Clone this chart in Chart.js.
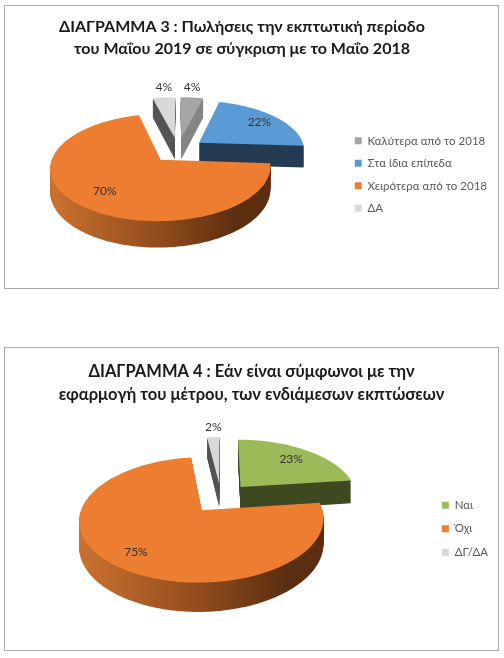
<!DOCTYPE html>
<html>
<head>
<meta charset="utf-8">
<script src="https://cdn.jsdelivr.net/npm/chart.js@4"></script>
<style>
  html, body { margin: 0; padding: 0; background: #fff; }
  canvas { position: absolute; left: 5px; outline: 1px solid #a9a9a9; background: #fff; }
  #chart3 { top: 6px; }
  #chart4 { top: 348px; }
</style>
</head>
<body>
<canvas id="chart3" width="493" height="282"></canvas>
<canvas id="chart4" width="493" height="302"></canvas>
<script>
let fontName = 'Lato, "Open Sans", "Noto Sans", sans-serif';

let title3 = ['ΔΙΑΓΡΑΜΜΑ 3 : Πωλήσεις την εκπτωτική περίοδο', 'του Μαΐου 2019 σε σύγκριση με το Μαΐο 2018'];
let categories3 = ['Καλύτερα από το 2018', 'Στα ίδια επίπεδα', 'Χειρότερα από το 2018', 'ΔΑ'];
let values3 = [4, 22, 70, 4];

let title4 = ['ΔΙΑΓΡΑΜΜΑ 4 : Εάν είναι σύμφωνοι με την', 'εφαρμογή του μέτρου, των ενδιάμεσων εκπτώσεων'];
let categories4 = ['Ναι', 'Όχι', 'ΔΓ/ΔΑ'];
let values4 = [23, 75, 2];

let orange = '#ed7d31';
let colors3 = ['#a5a5a5', '#5b9bd5', orange, '#d9d9d9'];
let walls3 = ['#858585', '#243c53', 'gradient', '#555555'];
let colors4 = ['#9bbb59', orange, '#d9d9d9'];
let walls4 = ['#3f4a22', 'gradient', '#555555'];

// tilted 3d look: the library works out the slices, this only projects them
function projector(view, el) {
    return function (x, y) {
        let u = (x - el.x) / el.outerRadius;
        let v = (y - el.y) / el.outerRadius;
        let s = 1 / (1 - view.k * v);
        return { x: view.cx + view.rx * u * s, y: view.cy + view.ry * v * s, s: s };
    };
}

function slicePoints(view, el) {
    let project = projector(view, el);
    let mid = (el.startAngle + el.endAngle) / 2;
    let ox = el.x + Math.cos(mid) * el.options.offset;
    let oy = el.y + Math.sin(mid) * el.options.offset;
    let pts = [project(ox, oy)];
    let steps = Math.ceil((el.endAngle - el.startAngle) * 40);
    for (let i = 0; i <= steps; i++) {
        let a = el.startAngle + (el.endAngle - el.startAngle) * i / steps;
        pts.push(project(ox + Math.cos(a) * el.outerRadius, oy + Math.sin(a) * el.outerRadius));
    }
    return pts;
}

function fillSlice(ctx, pts, depth) {
    ctx.beginPath();
    pts.forEach((p, i) => {
        if (i === 0) ctx.moveTo(p.x, p.y + depth * p.s);
        else ctx.lineTo(p.x, p.y + depth * p.s);
    });
    ctx.closePath();
    ctx.fill();
}

let tiltedPie = {
    id: 'tiltedPie',
    afterLayout(chart, args, view) {
        // the first title sits a little left of the frame centre
        chart.titleBlock.left -= view.titleShift;
        chart.titleBlock.right -= view.titleShift;
    },
    beforeDatasetsDraw(chart, args, view) {
        let ctx = chart.ctx;
        let meta = chart.getDatasetMeta(0);
        let ds = chart.data.datasets[0];
        let order = meta.data.map((el, i) => i).sort((a, b) => {
            let ma = (meta.data[a].startAngle + meta.data[a].endAngle) / 2;
            let mb = (meta.data[b].startAngle + meta.data[b].endAngle) / 2;
            return Math.sin(ma) - Math.sin(mb);
        });
        ctx.save();
        order.forEach(i => {
            let el = meta.data[i];
            let pts = slicePoints(view, el);
            let wall = view.walls[i];
            if (wall === 'gradient') {
                wall = ctx.createLinearGradient(view.cx - view.rx * 1.15, 0, view.cx + view.rx * 0.85, 0);
                wall.addColorStop(0, '#c8702e');
                wall.addColorStop(0.5, '#8f4b1c');
                wall.addColorStop(0.85, '#5c2e10');
                wall.addColorStop(1, '#5c2e10');
            }
            ctx.fillStyle = wall;
            for (let d = view.depth; d > 0; d--) fillSlice(ctx, pts, d);
            ctx.fillStyle = ds.backgroundColor[i];
            fillSlice(ctx, pts, 0);
        });
        ctx.fillStyle = '#333333';
        ctx.font = '12px ' + fontName;
        ctx.textAlign = 'center';
        ctx.textBaseline = 'middle';
        meta.data.forEach((el, i) => {
            let project = projector(view, el);
            let mid = (el.startAngle + el.endAngle) / 2;
            let r = el.options.offset + el.outerRadius * view.labelAt[i];
            let p = project(el.x + Math.cos(mid) * r, el.y + Math.sin(mid) * r);
            ctx.fillText(ds.data[i] + '%', p.x, p.y - view.labelLift[i]);
        });
        ctx.restore();
        return false;
    }
};

function makeChart(id, title, categories, values, colors, view, look) {
    return new Chart(document.getElementById(id), {
        type: 'pie',
        data: {
            labels: categories,
            datasets: [{ data: values, backgroundColor: colors, offset: look.offset, borderWidth: 0 }]
        },
        plugins: [tiltedPie],
        options: {
            responsive: false,
            animation: false,
            radius: 100,
            layout: { padding: { right: look.padRight } },
            plugins: {
                tooltip: { enabled: false },
                title: {
                    display: true,
                    text: title,
                    color: '#1a1a1a',
                    font: { family: fontName, size: look.titleSize, weight: 'bold', lineHeight: 1.35 },
                    padding: { top: look.titleTop, bottom: 2 }
                },
                legend: {
                    position: 'right',
                    fullSize: false,
                    labels: {
                        boxWidth: 7,
                        boxHeight: 7,
                        padding: look.legendGap,
                        color: '#595959',
                        font: { family: fontName, size: 11.5, lineHeight: 1.1 }
                    }
                },
                tiltedPie: view
            }
        }
    });
}

makeChart('chart3', title3, categories3, values3, colors3, {
    cx: 173, cy: 144, rx: 106, ry: 49.7, k: 0.14, depth: 22, titleShift: 9,
    walls: walls3, labelAt: [1, 0.78, 0.72, 1], labelLift: [10, 0, 0, 10]
}, { offset: 25, padRight: 1, titleSize: 16, titleTop: 10, legendGap: 11 });

makeChart('chart4', title4, categories4, values4, colors4, {
    cx: 216, cy: 150, rx: 117, ry: 57.5, k: 0.15, depth: 24, titleShift: 0,
    walls: walls4, labelAt: [0.75, 0.78, 1], labelLift: [0, 0, 10]
}, { offset: 26, padRight: 0, titleSize: 16.5, titleTop: 13, legendGap: 12 });
</script>
</body>
</html>
